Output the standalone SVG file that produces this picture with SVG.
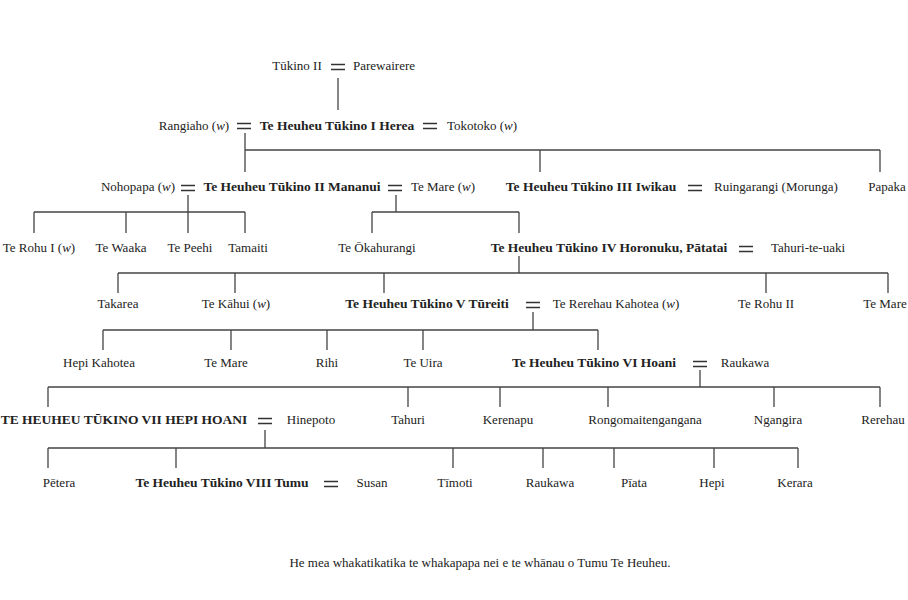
<svg xmlns="http://www.w3.org/2000/svg" width="908" height="600" viewBox="0 0 908 600">
<style>
text{font-family:"Liberation Serif",serif;font-size:13px;fill:#222;text-anchor:middle}
.b{font-weight:bold;font-size:13.5px}
.c path{stroke:#444;stroke-width:1.3;fill:none}
.eq path{stroke:#333;stroke-width:1.3}
</style>
<defs><g id="eq" class="eq"><path d="M-7,-2.5H7M-7,2.5H7"/></g></defs>
<g class="c">
<path d="M338,78V110"/>
<path d="M245,133V172M245,150H880M540,150V172M880,150V172"/>
<path d="M188,195V233M34,212H245M34,212V233M126,212V233M245,212V233"/>
<path d="M396,195V212M372,212H519M372,212V233M519,212V233"/>
<path d="M519,256V273M118,273H888M118,273V293M235,273V293M384,273V293M766,273V293M888,273V293"/>
<path d="M533,312V330M103,330H598M103,330V350M231,330V350M327,330V350M423,330V350M598,330V350"/>
<path d="M700,370V387M48,387H880M48,387V407M408,387V407M500,387V407M608,387V407M774,387V407M880,387V407"/>
<path d="M265,430V448M48,448H798M48,448V468M176,448V468M453,448V468M543,448V468M614,448V468M714,448V468M798,448V468"/>
</g>
<g id="eqs">
<use href="#eq" x="338" y="67"/><use href="#eq" x="244" y="126"/><use href="#eq" x="430" y="126"/>
<use href="#eq" x="188" y="188"/><use href="#eq" x="395" y="188"/><use href="#eq" x="695" y="188"/>
<use href="#eq" x="746" y="249"/><use href="#eq" x="533" y="305"/><use href="#eq" x="700" y="364"/>
<use href="#eq" x="265" y="421"/><use href="#eq" x="331" y="484"/>
</g>
<g id="n1"><text x="297" y="70">Tūkino II</text></g>
<g id="n2"><text x="384" y="70">Parewairere</text></g>
<g id="n3"><text x="194" y="130">Rangiaho (<tspan font-style="italic">w</tspan>)</text></g>
<g id="n4"><text class="b" x="337" y="130">Te Heuheu Tūkino I Herea</text></g>
<g id="n5"><text x="482" y="130">Tokotoko (<tspan font-style="italic">w</tspan>)</text></g>
<g id="n6"><text x="138" y="191">Nohopapa (<tspan font-style="italic">w</tspan>)</text></g>
<g id="n7"><text class="b" x="292" y="191">Te Heuheu Tūkino II Mananui</text></g>
<g id="n8"><text x="443" y="191">Te Mare (<tspan font-style="italic">w</tspan>)</text></g>
<g id="n9"><text class="b" x="591" y="191">Te Heuheu Tūkino III Iwikau</text></g>
<g id="n10"><text x="776" y="191">Ruingarangi (Morunga)</text></g>
<g id="n11"><text x="887" y="191">Papaka</text></g>
<g id="n12"><text x="39" y="252">Te Rohu I (<tspan font-style="italic">w</tspan>)</text></g>
<g id="n13"><text x="121" y="252">Te Waaka</text></g>
<g id="n14"><text x="190" y="252">Te Peehi</text></g>
<g id="n15"><text x="248" y="252">Tamaiti</text></g>
<g id="n16"><text x="377" y="252">Te Ōkahurangi</text></g>
<g id="n17"><text class="b" x="609" y="252">Te Heuheu Tūkino IV Horonuku, Pātatai</text></g>
<g id="n18"><text x="808" y="252">Tahuri-te-uaki</text></g>
<g id="n19"><text x="118" y="308">Takarea</text></g>
<g id="n20"><text x="236" y="308">Te Kāhui (<tspan font-style="italic">w</tspan>)</text></g>
<g id="n21"><text class="b" x="427" y="308">Te Heuheu Tūkino V Tūreiti</text></g>
<g id="n22"><text x="616" y="308">Te Rerehau Kahotea (<tspan font-style="italic">w</tspan>)</text></g>
<g id="n23"><text x="766" y="308">Te Rohu II</text></g>
<g id="n24"><text x="885" y="308">Te Mare</text></g>
<g id="n25"><text x="99" y="367">Hepi Kahotea</text></g>
<g id="n26"><text x="226" y="367">Te Mare</text></g>
<g id="n27"><text x="327" y="367">Rihi</text></g>
<g id="n28"><text x="423" y="367">Te Uira</text></g>
<g id="n29"><text class="b" x="594" y="367">Te Heuheu Tūkino VI Hoani</text></g>
<g id="n30"><text x="745" y="367">Raukawa</text></g>
<g id="n31"><text class="b" x="124" y="424">TE HEUHEU TŪKINO VII HEPI HOANI</text></g>
<g id="n32"><text x="311" y="424">Hinepoto</text></g>
<g id="n33"><text x="408" y="424">Tahuri</text></g>
<g id="n34"><text x="508" y="424">Kerenapu</text></g>
<g id="n35"><text x="645" y="424">Rongomaitengangana</text></g>
<g id="n36"><text x="778" y="424">Ngangira</text></g>
<g id="n37"><text x="883" y="424">Rerehau</text></g>
<g id="n38"><text x="59" y="487">Pētera</text></g>
<g id="n39"><text class="b" x="222" y="487">Te Heuheu Tūkino VIII Tumu</text></g>
<g id="n40"><text x="372" y="487">Susan</text></g>
<g id="n41"><text x="455" y="487">Tīmoti</text></g>
<g id="n42"><text x="550" y="487">Raukawa</text></g>
<g id="n43"><text x="634" y="487">Pīata</text></g>
<g id="n44"><text x="712" y="487">Hepi</text></g>
<g id="n45"><text x="795" y="487">Kerara</text></g>
<text x="480" y="567">He mea whakatikatika te whakapapa nei e te whānau o Tumu Te Heuheu.</text>
</svg>
